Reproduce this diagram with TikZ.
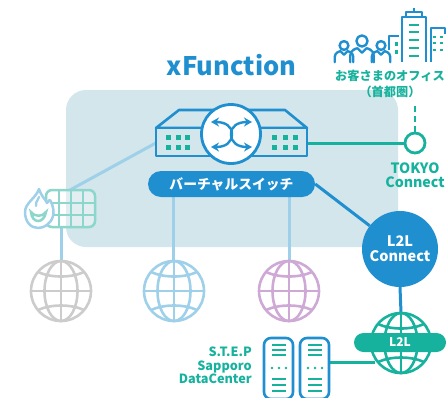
\documentclass[tikz,border=0pt]{standalone}
\usepackage{fontspec}
\usetikzlibrary{arrows.meta,backgrounds}
\setmainfont{Noto Sans CJK JP}
\definecolor{panelc}{HTML}{D3E6EB}
\definecolor{bluec}{HTML}{1F8FD0}
\definecolor{tealc}{HTML}{17B29D}
\definecolor{lblue}{HTML}{9FD0EA}
\definecolor{grayc}{HTML}{CCCCCC}
\definecolor{purc}{HTML}{CFA9D6}
\definecolor{lteal}{HTML}{8CD6CB}
\tikzset{
  iconblue/.style={draw=bluec,line width=2.4pt,line join=round},
  linkblue/.style={draw=bluec,line width=3pt},
  linkteal/.style={draw=tealc,line width=3pt},
  linklight/.style={draw=lblue,line width=3pt},
  lbl/.style={inner sep=0pt,align=center},
  pillbox/.style={rounded corners=9.5pt,inner sep=0pt,text=white},
  port/.style={fill=tealc,draw=none},
  globespot/.style={circle,minimum size=60pt,inner sep=0pt},
}
\newcommand{\globeicon}[2]{%
  \begin{scope}[shift={(#1)},line width=2.6pt]
    \draw[#2] (0,0) circle[radius=30];
    \draw[#2] (0,0) ellipse[x radius=16.5,y radius=30];
    \draw[#2] (0,-30) -- (0,30);
    \draw[#2] (-30,0) -- (30,0);
    \draw[#2] (-23,-19) .. controls (-10,-13) and (10,-13) .. (23,-19);
    \draw[#2] (-23,19) .. controls (-10,13) and (10,13) .. (23,19);
  \end{scope}}
\newcommand{\personicon}[3]{%
  \draw[iconblue] (#1,#2) circle[radius=#3];
  \draw[iconblue,line cap=round] (#1-#3*2.1,#2+#3*3.8) -- (#1-#3*2.1,#2+#3*2.6) .. controls (#1-#3*2.1,#2+#3*1.6) and (#1-#3,#2+#3*1.3) .. (#1-#3*.8,#2+#3*1.3) -- (#1,#2+#3*2.1) -- (#1+#3*.8,#2+#3*1.3) .. controls (#1+#3,#2+#3*1.3) and (#1+#3*2.1,#2+#3*1.6) .. (#1+#3*2.1,#2+#3*2.6) -- (#1+#3*2.1,#2+#3*3.8);}
\newcommand{\servericon}[1]{%
  \begin{scope}[shift={(#1,0)}]
    \draw[iconblue,line width=2.6pt,fill=white,rounded corners=7pt] (0,338) rectangle (29,399);
    \foreach \yy in {345,350,355,379,385,391}{\draw[tealc,line width=2.2pt] (8,\yy) -- (22,\yy);}
    \foreach \xx in {8,15,22}{\fill[tealc] (\xx,368) circle[radius=1.3];}
  \end{scope}}
\begin{document}
\begin{tikzpicture}[x=1pt,y=-1pt]
\useasboundingbox (0,0) rectangle (446,397);
\clip (0,0) rectangle (446,397);
\node[lbl,text=bluec,font=\bfseries\fontsize{25.5}{27}\selectfont] (title) at (231.5,65) {xFunction};

% nodes
\node[globespot] (g1) at (61,291) {};
\node[globespot] (g2) at (174,291) {};
\node[globespot] (g3) at (289,291) {};
\node[globespot] (g4) at (401,343) {};
\node[inner sep=0pt,minimum width=151pt,minimum height=26pt] (front) at (231.5,143) {};
\node[pillbox,rounded corners=13pt,fill=bluec,minimum width=167pt,minimum height=26pt,font=\bfseries\fontsize{13.8}{15}\selectfont] (vsw) at (231.5,184) {バーチャルスイッチ};
\node[circle,fill=bluec,minimum size=76pt,inner sep=0pt,text=white,align=center,font=\bfseries\fontsize{14.5}{15}\selectfont] (l2lc) at (400,249) {L2L\\Connect};
\node[circle,draw=tealc,line width=2.8pt,fill=white,minimum size=20pt,inner sep=0pt] (tokyo) at (415,143) {};
\coordinate (office) at (415,106);
\coordinate (fwne) at (70,190);
\coordinate (fwb) at (61,227);
\coordinate (srvr) at (329,362);
\coordinate (g4l) at (375,362);
\coordinate (vl1) at (173,197);
\coordinate (vl1b) at (173,262);
\coordinate (vl2) at (289,197);
\coordinate (vl2b) at (289,262);

% panel and connectors behind the nodes
\begin{pgfonlayer}{background}
\fill[panelc,rounded corners=20pt] (66,90) rectangle (398,247);
\draw[linklight] (front.west) -- (fwne);
\draw[linklight] (fwb) -- (g1.north);
\draw[linklight] (vl1) -- (vl1b);
\draw[linklight] (vl2) -- (vl2b);
\draw[linkteal] (front.east) -- (tokyo.west);
\draw[tealc,line width=2.6pt,dash pattern=on 6pt off 4pt] (tokyo.north) -- (office);
\draw[linkblue] (vsw.east) -- (l2lc);
\draw[linkblue] (l2lc.south) -- (g4.north);
\draw[linkteal] (srvr) -- (g4l);
\end{pgfonlayer}

% switch
\draw[iconblue,line width=2.6pt,fill=panelc] (156,128) -- (179,110) -- (285,110) -- (307,128) -- cycle;
\draw[iconblue,line width=2.6pt,fill=panelc] (156,128) rectangle (307,156);
\foreach \xx in {168,178,187,274,285,295}{\foreach \yy in {137,147}{
  \fill[port] (\xx-2.5,\yy-2.5) rectangle (\xx+2.5,\yy+2.5);}}
\draw[iconblue,line width=2.8pt,fill=white] (231,134) circle[radius=29.5];
\begin{scope}[line width=2.4pt,-{Stealth[length=8pt,width=9pt]}]
  \draw[bluec] (232,134) .. controls (232,126) and (225,122) .. (211,122);
  \draw[bluec] (232,134) .. controls (232,143) and (225,147) .. (211,147);
  \draw[bluec] (231,134) .. controls (231,126) and (238,122) .. (252,122);
  \draw[bluec] (231,134) .. controls (231,143) and (238,147) .. (252,147);
\end{scope}

% globes
\globeicon{61,291}{grayc}
\globeicon{174,291}{lblue}
\globeicon{289,291}{purc}
\globeicon{401,343}{tealc}
\node[pillbox,fill=tealc,minimum width=92pt,minimum height=19pt,font=\bfseries\fontsize{12}{13}\selectfont] (l2lp) at (400,342.5) {L2L};

% firewall
\begin{scope}[line width=2.5pt]
  \draw[lteal,fill=white,fill opacity=.35,rounded corners=6pt] (46,190) rectangle (95,227);
  \foreach \xx in {59,71,83}{\draw[lteal] (\xx,190) -- (\xx,227);}
  \foreach \yy in {203,215}{\draw[lteal] (46,\yy) -- (95,\yy);}
\end{scope}
\draw[lblue,line width=2.5pt,fill=white,line join=round] (39,189) .. controls (41,196) and (46,200) .. (47,203) .. controls (49,200) and (50,200) .. (50,200) .. controls (54,207) and (54,213) .. (53,216) .. controls (51,224) and (44,228) .. (38,228) .. controls (31,228) and (25,222) .. (25,212) .. controls (25,203) and (36,198) .. (39,189) -- cycle;
\draw[lblue,line width=2.3pt,line cap=round] (39,197) .. controls (37,202) and (35,203) .. (36,206);
\draw[lteal,line width=2.5pt,line cap=round] (31,212) .. controls (32,224) and (44,224) .. (46,212) .. controls (43,217) and (34,217) .. (31,212) -- cycle;

% servers
\servericon{264}
\servericon{300}

% office icon
\draw[iconblue] (402,62) -- (402,17) -- (426,17) -- (426,62);
\draw[iconblue] (406,17) -- (406,12) -- (422,12) -- (422,17);
\draw[iconblue] (414,12) -- (414,8);
\draw[iconblue] (431,62) -- (431,28) -- (445,28) -- (445,34);
\draw[iconblue] (389,50) -- (389,36) -- (399,36);
\foreach \yy in {25,32,40,48,56}{\draw[tealc,line width=2.4pt] (409,\yy) -- (419,\yy);}
\foreach \xx in {434,441}{\foreach \yy in {37,43,50}{\fill[tealc] (\xx-1.5,\yy-1.3) rectangle (\xx+1.5,\yy+1.3);}}
\foreach \yy in {44,52}{\fill[tealc] (395,\yy-1.6) rectangle (398,\yy+1.6);}
\personicon{344}{45.5}{4.4}
\personicon{381}{45.5}{4.4}
\personicon{362}{41}{5.6}

% labels
\node[lbl,text=tealc,font=\bfseries\fontsize{12.2}{16}\selectfont] (ofclbl) at (390,84) {お客さまのオフィス\\（首都圏）};
\node[lbl,text=tealc,font=\bfseries\fontsize{14.2}{14}\selectfont] (toklbl) at (415,175.5) {TOKYO\\Connect};
\node[lbl,text=tealc,font=\bfseries\fontsize{12.7}{13.5}\selectfont,align=right,anchor=east] (steplbl) at (252,365.5) {S.T.E.P\\Sapporo\\DataCenter};
\end{tikzpicture}
\end{document}
